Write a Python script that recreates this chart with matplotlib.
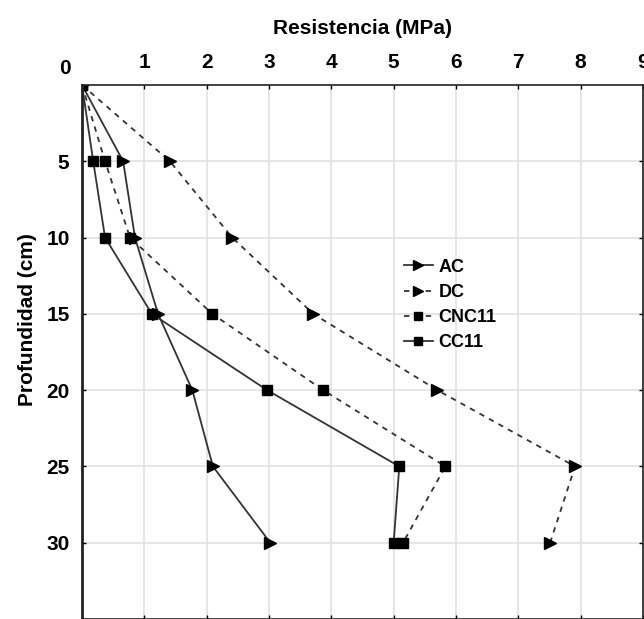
import matplotlib.pyplot as plt
import matplotlib.transforms as mtransforms

# depth (cm) and resistance (MPa) per treatment
depth = [0, 5, 10, 15, 20, 25, 30]
ac = [0, 0.66, 0.85, 1.22, 1.77, 2.10, 3.02]
dc = [0, 1.41, 2.41, 3.71, 5.70, 7.91, 7.51]
cnc11 = [0, 0.37, 0.77, 2.09, 3.87, 5.83, 5.15]
cc11 = [0, 0.18, 0.37, 1.12, 2.97, 5.09, 5.00]

x_ticks = [1, 2, 3, 4, 5, 6, 7, 8, 9]
y_ticks = [5, 10, 15, 20, 25, 30]

plt.rcParams['font.family'] = ['Liberation Sans', 'DejaVu Sans']
plt.rcParams['font.weight'] = 'bold'

fig = plt.figure(figsize=(6.44, 6.19), dpi=100)
ax = fig.add_axes([82 / 644, 0, (643 - 82) / 644, (619 - 85) / 619])

lc = '#333333'
ax.plot(ac, depth, '-', color=lc, lw=1.3, marker='>', ms=8, mfc='black', mec='black', label='AC')
ax.plot(dc, depth, '--', color=lc, lw=1.3, dashes=(3, 3), marker='>', ms=8, mfc='black', mec='black', label='DC')
ax.plot(cnc11, depth, '--', color=lc, lw=1.3, dashes=(3, 3), marker='s', ms=7, mfc='black', mec='black', label='CNC11')
ax.plot(cc11, depth, '-', color=lc, lw=1.3, marker='s', ms=7, mfc='black', mec='black', label='CC11')

ax.set_xlim(0, 9)
ax.set_ylim(35, 0)
ax.xaxis.tick_top()
ax.xaxis.set_label_position('top')
ax.set_xticks(x_ticks)
ax.set_yticks(y_ticks)
ax.tick_params(direction='in', length=3, width=1, labelsize=15, top=True, right=True, bottom=True, pad=9)
ax.grid(True, color='#e2e2e2', lw=1.2)
for s in ax.spines.values():
    s.set_color('#222222')
    s.set_linewidth(1.2)
ax.spines['left'].set_linewidth(2)

ax.set_xlabel('Resistencia (MPa)', fontsize=15, fontweight='bold', labelpad=14)
ax.set_ylabel('Profundidad (cm)', fontsize=15, fontweight='bold')
ax.yaxis.set_label_coords(-0.08, 0.56)

trans = mtransforms.blended_transform_factory(ax.transData, fig.transFigure)
ax.text(-0.27, 1 - 68 / 619, '0', transform=trans, ha='center', va='center', fontsize=15, fontweight='bold')

leg = ax.legend(loc='upper left', bbox_to_anchor=(0.545, 0.705), frameon=False, fontsize=13,
                handlelength=1.6, handletextpad=0.3, labelspacing=0.45, markerscale=0.85)

fig.savefig('out.png', dpi=100)
